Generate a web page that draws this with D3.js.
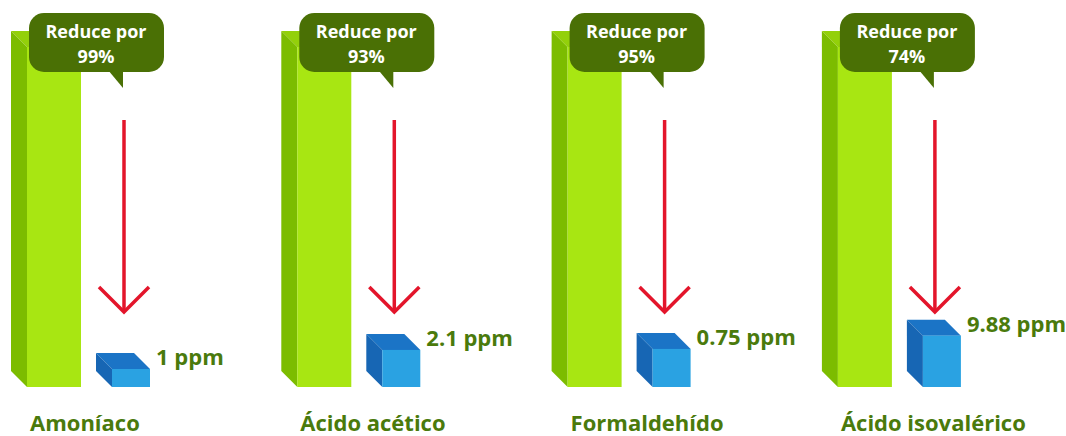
<!DOCTYPE html>
<html>
<head>
<meta charset="utf-8">
<script src="https://cdn.jsdelivr.net/npm/d3@7"></script>
<style>
  body { margin: 0; background: #fff; }
  svg { display: block; font-family: "Open Sans", Lato, sans-serif; }
  .bubble text { fill: #fff; font-weight: bold; font-size: 18px; }
  .ppm { fill: #4a7a0c; font-weight: bold; font-size: 22px; }
  .cat { fill: #4a7a0c; font-weight: bold; font-size: 22px; }
</style>
</head>
<body>
<svg width="1066" height="436"></svg>
<script>
var categories = ['Amoníaco', 'Ácido acético', 'Formaldehído', 'Ácido isovalérico'];
var reduction = [99, 93, 95, 74];          // % shown in the bubbles
var ppm = [1, 2.1, 0.75, 9.88];            // remaining level labels
var beforeLevel = [100, 100, 100, 100];    // green bars (full height)
var afterLevel = [5.3, 10.9, 11.2, 15.1];  // blue boxes

var data = categories.map((c, i) => ({
  cat: c, red: reduction[i], ppm: ppm[i], before: beforeLevel[i], after: afterLevel[i]
}));

var svg = d3.select('svg');

var xScale = d3.scaleBand()
  .domain(categories)
  .range([27, 27 + 4 * 270.3]);

var yScale = d3.scaleLinear()
  .domain([0, 100])
  .range([387, 47]);

var depth = 16;      // 3d offset for side/top faces
var barW = 54;
var boxW = 38;

var groups = svg.selectAll('g.grp')
  .data(data)
  .enter()
  .append('g')
  .attr('class', 'grp');

// green bar: top, side, front
groups.append('path')
  .attr('fill', '#93d00a')
  .attr('d', d => {
    var x = xScale(d.cat), y = yScale(d.before);
    return `M${x - depth},${y - depth}L${x + barW - depth},${y - depth}L${x + barW},${y}L${x},${y}Z`;
  });
groups.append('path')
  .attr('fill', '#7cbc00')
  .attr('d', d => {
    var x = xScale(d.cat), y = yScale(d.before), y0 = yScale(0);
    return `M${x - depth},${y - depth}L${x},${y}L${x},${y0}L${x - depth},${y0 - depth}Z`;
  });
groups.append('rect')
  .attr('fill', '#a8e612')
  .attr('x', d => xScale(d.cat))
  .attr('y', d => yScale(d.before))
  .attr('width', barW)
  .attr('height', d => yScale(0) - yScale(d.before));

// blue box
var boxX = d => xScale(d.cat) + 85;
groups.append('path')
  .attr('fill', '#1b74c6')
  .attr('d', d => {
    var x = boxX(d), y = yScale(d.after);
    return `M${x - depth},${y - depth}L${x + boxW - depth},${y - depth}L${x + boxW},${y}L${x},${y}Z`;
  });
groups.append('path')
  .attr('fill', '#1766b4')
  .attr('d', d => {
    var x = boxX(d), y = yScale(d.after), y0 = yScale(0);
    return `M${x - depth},${y - depth}L${x},${y}L${x},${y0}L${x - depth},${y0 - depth}Z`;
  });
groups.append('rect')
  .attr('fill', '#2aa2e2')
  .attr('x', d => boxX(d))
  .attr('y', d => yScale(d.after))
  .attr('width', boxW)
  .attr('height', d => yScale(0) - yScale(d.after));

// red arrow
var arrowX = d => xScale(d.cat) + 97;
groups.append('line')
  .attr('x1', arrowX).attr('x2', arrowX)
  .attr('y1', 120).attr('y2', 311)
  .attr('stroke', '#e3152b').attr('stroke-width', 3.5);
groups.append('path')
  .attr('fill', 'none')
  .attr('stroke', '#e3152b').attr('stroke-width', 3.5)
  .attr('d', d => {
    var x = arrowX(d);
    return `M${x - 25},287L${x},312L${x + 25},287`;
  });

// speech bubble
var bubble = groups.append('g').attr('class', 'bubble');
bubble.append('rect')
  .attr('x', d => arrowX(d) - 95)
  .attr('y', 13)
  .attr('width', 135)
  .attr('height', 59)
  .attr('rx', 15)
  .attr('fill', '#4a7005');
bubble.append('path')
  .attr('fill', '#4a7005')
  .attr('d', d => {
    var x = arrowX(d);
    return `M${x - 16},70L${x - 1},70L${x - 1},88Z`;
  });
bubble.append('text')
  .attr('x', d => arrowX(d) - 28)
  .attr('y', 38)
  .attr('text-anchor', 'middle')
  .text('Reduce por');
bubble.append('text')
  .attr('x', d => arrowX(d) - 28)
  .attr('y', 63)
  .attr('text-anchor', 'middle')
  .text(d => d.red + '%');

// ppm labels
groups.append('text')
  .attr('class', 'ppm')
  .attr('x', d => boxX(d) + boxW + 6)
  .attr('y', d => yScale(d.after) - depth + 12)
  .text(d => d.ppm + ' ppm');

// category labels
groups.append('text')
  .attr('class', 'cat')
  .attr('x', d => xScale(d.cat) + 3)
  .attr('y', 431)
  .text(d => d.cat);
</script>
</body>
</html>
